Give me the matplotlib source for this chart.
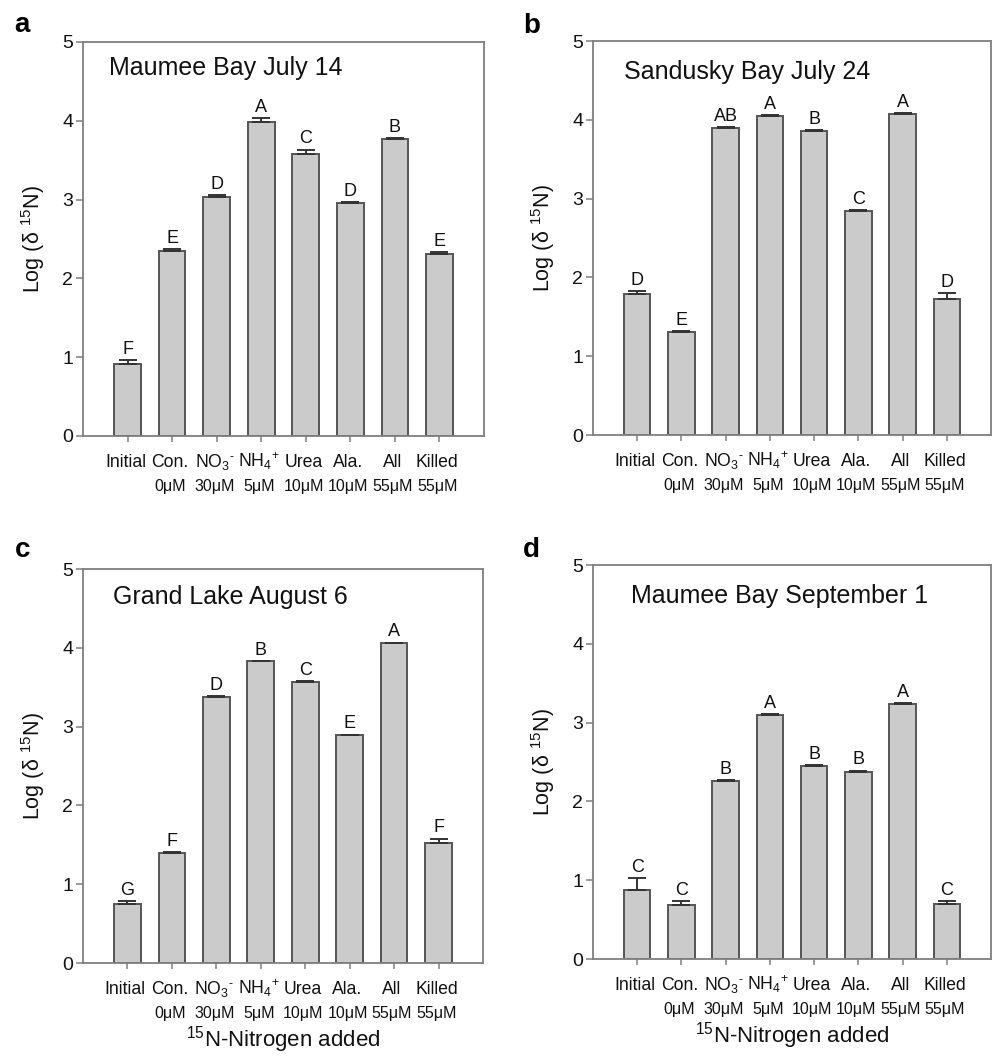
import matplotlib
matplotlib.use("Agg")
import matplotlib.pyplot as plt
import numpy as np

plt.rcParams['font.family'] = ['Liberation Sans', 'DejaVu Sans']
plt.rcParams['mathtext.fontset'] = 'custom'
plt.rcParams['mathtext.rm'] = 'Liberation Sans'
plt.rcParams['mathtext.it'] = 'Liberation Sans:italic'
plt.rcParams['mathtext.bf'] = 'Liberation Sans:bold'

# ---------------- data ----------------
treatments = ['Initial', 'Con.', r'NO$_3$$^{\text{-}}$', r'NH$_4$$^{\text{+}}$', 'Urea', 'Ala.', 'All', 'Killed']
concentrations = ['', '0\u03bcM', '30\u03bcM', '5\u03bcM', '10\u03bcM', '10\u03bcM', '55\u03bcM', '55\u03bcM']

panel_letters = ['a', 'b', 'c', 'd']
panel_titles = ['Maumee Bay July 14', 'Sandusky Bay July 24',
                'Grand Lake August 6', 'Maumee Bay September 1']

maumee_jul_mean = [0.915, 2.354, 3.035, 3.98, 3.58, 2.955, 3.768, 2.31]
maumee_jul_err = [0.05, 0.02, 0.025, 0.055, 0.055, 0.01, 0.012, 0.02]
maumee_jul_groups = ['F', 'E', 'D', 'A', 'C', 'D', 'B', 'E']

sandusky_mean = [1.79, 1.31, 3.896, 4.052, 3.858, 2.843, 4.074, 1.726]
sandusky_err = [0.04, 0.01, 0.01, 0.005, 0.012, 0.008, 0.008, 0.072]
sandusky_groups = ['D', 'E', 'AB', 'A', 'B', 'C', 'A', 'D']

grand_mean = [0.748, 1.399, 3.381, 3.829, 3.571, 2.895, 4.062, 1.522]
grand_err = [0.04, 0.008, 0.003, 0.003, 0.003, 0.003, 0.003, 0.055]
grand_groups = ['G', 'F', 'D', 'B', 'C', 'E', 'A', 'F']

maumee_sep_mean = [0.871, 0.685, 2.263, 3.10, 2.445, 2.377, 3.236, 0.702]
maumee_sep_err = [0.157, 0.05, 0.005, 0.008, 0.02, 0.012, 0.012, 0.035]
maumee_sep_groups = ['C', 'C', 'B', 'A', 'B', 'B', 'A', 'C']

means = [maumee_jul_mean, sandusky_mean, grand_mean, maumee_sep_mean]
errors = [maumee_jul_err, sandusky_err, grand_err, maumee_sep_err]
groups = [maumee_jul_groups, sandusky_groups, grand_groups, maumee_sep_groups]

yticks = [0, 1, 2, 3, 4, 5]
ylabel = 'Log (\u03b4 $^{15}$N)'
xlabel = '$^{15}$N-Nitrogen added'

# ---------------- layout ----------------
W, H = 992, 1058
fig = plt.figure(figsize=(W / 100, H / 100), dpi=100)

def rect(l, r, t, b):
    return [l / W, 1 - b / H, (r - l) / W, (b - t) / H]

rects = [rect(83, 484, 42, 436), rect(593, 991, 41, 435),
         rect(83, 483, 569, 963), rect(593, 991, 565, 959)]
title_pos = [(0.065, 0.916), (0.078, 0.904), (0.075, 0.911), (0.096, 0.904)]
letter_pos = [(14, 32), (523, 33), (15, 557), (523, 557)]

spine_c = '#7f7f7f'
bar_fill = '#cbcbcb'
bar_edge = '#555555'
txt_c = '#111111'

for k in range(4):
    ax = fig.add_axes(rects[k])
    x = np.arange(len(treatments))
    m = np.array(means[k])
    e = np.array(errors[k])
    ax.bar(x, m, width=0.6, color=bar_fill, edgecolor=bar_edge, linewidth=1.4, zorder=2)
    ax.errorbar(x, m, yerr=[np.zeros_like(e), e], fmt='none', ecolor='#333333',
                elinewidth=1.4, capsize=6.5, capthick=1.4, zorder=3)
    for i, g in enumerate(groups[k]):
        ax.annotate(g, xy=(x[i], m[i] + e[i]), xytext=(0, 4.5), textcoords='offset points',
                    ha='center', va='baseline', fontsize=13, color=txt_c)
    ax.set_xlim(-1, 8)
    ax.set_ylim(0, 5)
    ax.set_yticks(yticks)
    ax.set_yticklabels([str(t) for t in yticks], fontsize=14, color=txt_c)
    ax.set_xticks(x)
    ax.set_xticklabels([''] * len(x))
    for i in range(len(x)):
        ax.annotate(treatments[i], xy=(x[i], 0), xycoords=('data', 'axes fraction'),
                    xytext=(-1.5, -22.3), textcoords='offset points', ha='center',
                    va='baseline', fontsize=12.7, color=txt_c)
        if concentrations[i]:
            ax.annotate(concentrations[i], xy=(x[i], 0), xycoords=('data', 'axes fraction'),
                        xytext=(-1.5, -39.6), textcoords='offset points', ha='center',
                        va='baseline', fontsize=11.5, color=txt_c)
    for s in ax.spines.values():
        s.set_color(spine_c)
        s.set_linewidth(1.3)
    ax.tick_params(axis='y', direction='out', length=5, width=1.1, color=spine_c, pad=2)
    ax.tick_params(axis='x', direction='out', length=4.5, width=1.1, color=spine_c)
    ax.set_ylabel(ylabel, fontsize=15.5, color=txt_c, labelpad=11)
    ax.text(title_pos[k][0], title_pos[k][1], panel_titles[k], transform=ax.transAxes,
            fontsize=18, ha='left', va='baseline', color=txt_c)
    if k >= 2:
        ax.annotate(xlabel, xy=(0.5, 0), xycoords='axes fraction', xytext=(0, -60),
                    textcoords='offset points', ha='center', va='baseline',
                    fontsize=16, color=txt_c)
    fig.text(letter_pos[k][0] / W, 1 - letter_pos[k][1] / H, panel_letters[k],
             fontsize=20, fontweight='bold', ha='left', va='baseline')

fig.savefig('out.png', dpi=100)
